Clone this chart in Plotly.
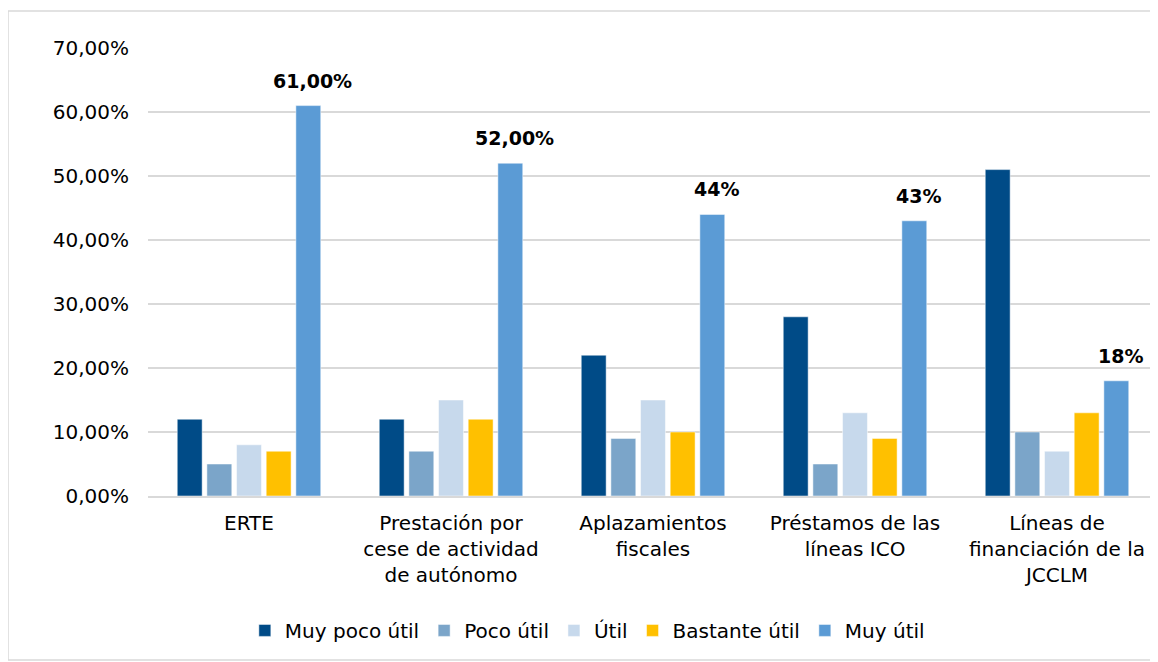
import plotly.graph_objects as go

categories = [
    "ERTE",
    "Prestación por<br>cese de actividad<br>de autónomo",
    "Aplazamientos<br>fiscales",
    "Préstamos de las<br>líneas ICO",
    "Líneas de<br>financiación de la<br>JCCLM",
]

muy_poco_util = [12, 12, 22, 28, 51]
poco_util = [5, 7, 9, 5, 10]
util = [8, 15, 15, 13, 7]
bastante_util = [7, 12, 10, 9, 13]
muy_util = [61, 52, 44, 43, 18]
muy_util_labels = ["61,00%", "52,00%", "44%", "43%", "18%"]

series = [
    ("Muy poco útil", muy_poco_util, "#004B87"),
    ("Poco útil", poco_util, "#7BA5C9"),
    ("Útil", util, "#C7D9EC"),
    ("Bastante útil", bastante_util, "#FFC000"),
    ("Muy útil", muy_util, "#5B9BD5"),
]

FONT = "DejaVu Sans"
SIZE = 20

fig = go.Figure()
for name, values, color in series:
    fig.add_trace(
        go.Bar(
            x=categories,
            y=values,
            name=name,
            marker=dict(color=color, line=dict(color="white", width=0.5)),
        )
    )

# bold value labels above the "Muy útil" bars
for cat, val, label in zip(categories, muy_util, muy_util_labels):
    fig.add_annotation(
        x=cat,
        y=val,
        text=f"<b>{label}</b>",
        showarrow=False,
        xshift=63,
        yshift=12,
        yanchor="bottom",
        font=dict(family=FONT, size=19, color="#000"),
    )

# outer chart border
fig.add_shape(
    type="rect",
    xref="paper",
    yref="paper",
    x0=-0.1386,
    x1=1.02,
    y0=-0.366,
    y1=1.0826,
    line=dict(color="#D9D9D9", width=1.5),
    layer="below",
)

fig.update_layout(
    width=1158,
    height=662,
    barmode="group",
    bargap=0.266,
    bargroupgap=0.16,
    separators=",.",
    font=dict(family=FONT, size=SIZE, color="#000"),
    paper_bgcolor="white",
    plot_bgcolor="white",
    margin=dict(l=140, r=8, t=40, b=174),
    xaxis=dict(
        showgrid=False,
        showline=True,
        linecolor="#D9D9D9",
        linewidth=1.5,
        ticks="",
        ticklabelstandoff=8,
        tickfont=dict(family=FONT, size=SIZE, color="#000"),
    ),
    yaxis=dict(
        range=[0, 70],
        dtick=10,
        tickformat=".2f",
        ticksuffix="%",
        showgrid=True,
        gridcolor="#D9D9D9",
        gridwidth=1.5,
        zeroline=False,
        ticklabelstandoff=18,
        tickfont=dict(family=FONT, size=SIZE, color="#000"),
    ),
    legend=dict(
        orientation="h",
        x=0.435,
        xanchor="center",
        y=-0.30,
        yanchor="middle",
        font=dict(family=FONT, size=SIZE, color="#000"),
        itemwidth=30,
        traceorder="normal",
    ),
)

fig.write_html("out.html")
